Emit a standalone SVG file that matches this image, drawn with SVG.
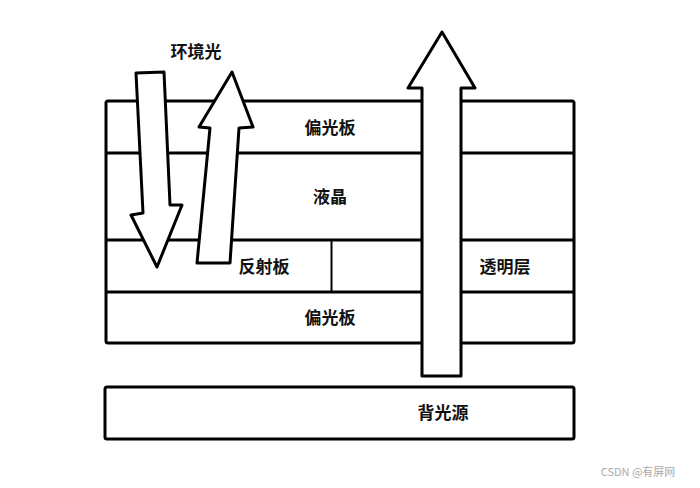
<svg xmlns="http://www.w3.org/2000/svg" width="700" height="488" viewBox="0 0 700 488">
<style>
.box{fill:#fff;stroke:#000;stroke-width:3;stroke-linejoin:round}
.ln{stroke:#000;stroke-width:3}
.arr{fill:#fff;stroke:#000;stroke-width:3;stroke-linejoin:round}
.t{font-family:"Noto Sans CJK SC","Liberation Sans",sans-serif;font-size:17px;font-weight:bold;fill:#111;text-anchor:middle}
.wm{font-family:"Noto Sans CJK SC","Liberation Sans",sans-serif;font-size:11px;fill:#aaa;text-anchor:middle}
</style>
<rect width="700" height="488" fill="#fff"/>
<g id="layers">
<rect class="box" x="106" y="101" width="468" height="242" rx="2"/>
<line class="ln" x1="106" y1="153" x2="574" y2="153"/>
<line class="ln" x1="106" y1="240" x2="574" y2="240"/>
<line class="ln" x1="106" y1="292" x2="574" y2="292"/>
<line x1="331.5" y1="240" x2="331.5" y2="292" stroke="#000" stroke-width="2"/>
</g>
<g id="backlight">
<rect class="box" x="105" y="387" width="469" height="52" rx="2"/>
<text class="t" x="443" y="419">背光源</text>
</g>
<g id="connectors">
<path class="arr" d="M136,73 L164,72 L170,205 L182,205 L157,267 L131,215 L143,213 Z"/>
<path class="arr" d="M232,72 L253,127 L239,128 L230,263 L197,263 L210,128 L199,127 Z"/>
<path class="arr" d="M442,32 L475,88 L461,88 L461,376 L422,376 L422,88 L408,88 Z"/>
</g>
<g id="labels">
<text class="t" x="196" y="58">环境光</text>
<text class="t" x="330" y="134">偏光板</text>
<text class="t" x="330" y="203">液晶</text>
<text class="t" x="264" y="273">反射板</text>
<text class="t" x="505" y="273">透明层</text>
<text class="t" x="330" y="324">偏光板</text>
</g>
<text class="wm" x="638" y="476">CSDN @有屏网</text>
</svg>
